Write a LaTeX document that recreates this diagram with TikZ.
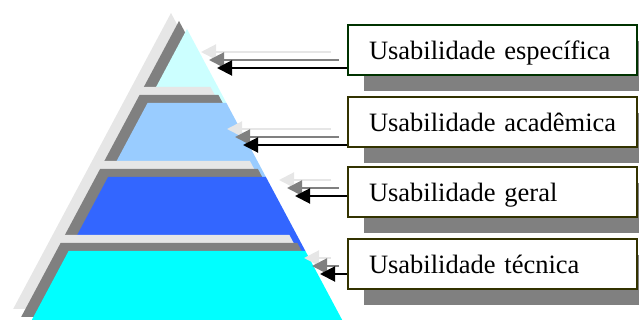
\documentclass[tikz,border=0pt]{standalone}
\usepackage{fontspec}
\setmainfont{Liberation Serif}
\usetikzlibrary{arrows.meta,shadows}

\definecolor{tierA}{HTML}{CCFFFF}
\definecolor{tierB}{HTML}{99CCFF}
\definecolor{tierC}{HTML}{3366FF}
\definecolor{tierD}{HTML}{00FFFF}
\definecolor{lightshade}{HTML}{E6E6E6}
\definecolor{darkshade}{HTML}{808080}
\definecolor{greenframe}{HTML}{003300}
\definecolor{oliveframe}{HTML}{333300}

\begin{document}
\begin{tikzpicture}[x=0.5pt, y=-0.5pt,
    label box/.style={rectangle, draw=oliveframe, line width=1pt, fill=white, anchor=north west,
        text width=123.5pt, inner xsep=10.5pt, inner ysep=0pt, minimum height=25pt, align=left,
        text height=9.5pt, text depth=0pt, font=\fontsize{13.25}{16}\selectfont,
        drop shadow={shadow xshift=8pt, shadow yshift=-8pt, fill=darkshade, opacity=1}},
    pointer/.style={-{Triangle[length=7.5pt,width=7.5pt]}, line width=1pt}]
    \useasboundingbox (0,0) rectangle (639,320);
    \clip (0,0) rectangle (639,320);

    % Pyramid tiers, each with two shadows
    \foreach \t/\b/\c in {29/103/tierA, 103/177/tierB, 177/251/tierC, 251/325/tierD} {
        \foreach \s/\f in {16/lightshade, 8/darkshade, 0/\c} {
            \fill[fill=\f, shift={(-\s,-\s)}] ({187-0.5333*(\t-29)},\t) -- ({187+0.5333*(\t-29)},\t)
                -- ({187+0.5333*(\b-29)},\b) -- ({187-0.5333*(\b-29)},\b) -- cycle;
        }
    }

    % Labels
    \node [label box, draw=greenframe] (especifica) at (347,24) {\mbox{Usabilidade específica}};
    \node [label box] (academica) at (347,96) {\mbox{Usabilidade acadêmica}};
    \node [label box] (geral) at (347,166) {\mbox{Usabilidade geral}};
    \node [label box] (tecnica) at (347,238) {\mbox{Usabilidade técnica}};

    % Arrow tips
    \coordinate (tipA) at (217,68);
    \coordinate (tipB) at (243,145);
    \coordinate (tipC) at (295,196);
    \coordinate (tipD) at (320,274);
    \coordinate (fromA) at (especifica.west |- tipA);
    \coordinate (fromB) at (academica.west |- tipB);
    \coordinate (fromC) at (geral.west |- tipC);
    \coordinate (fromD) at (tecnica.west |- tipD);

    % Arrows
    \foreach \s/\f in {16/lightshade, 8/darkshade, 0/black}
        \foreach \n in {A,B,C,D}
            \draw [pointer, draw=\f, fill=\f] ([shift={(-\s,-\s)}]from\n) -- ([shift={(-\s,-\s)}]tip\n);
\end{tikzpicture}
\end{document}
